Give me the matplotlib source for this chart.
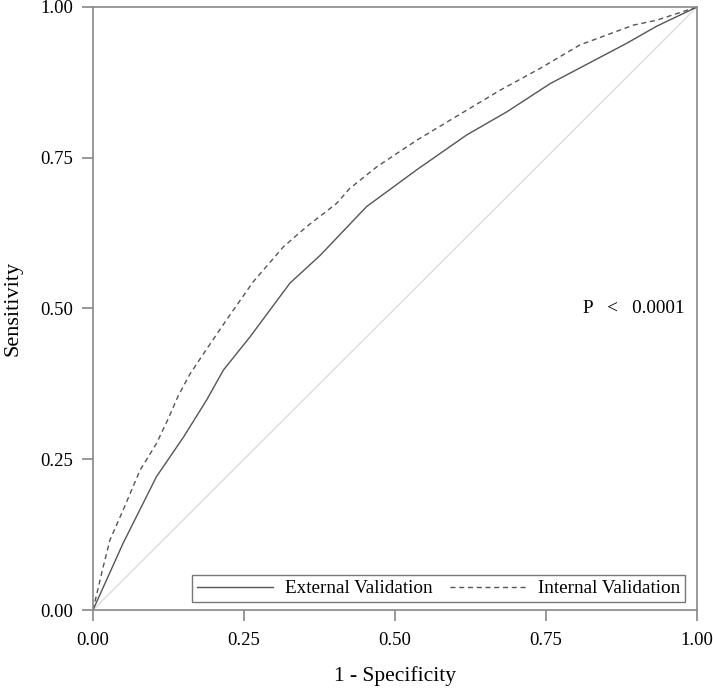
import matplotlib.pyplot as plt

plt.rcParams['font.family'] = ['Liberation Serif', 'DejaVu Serif']

# ROC points
ext_fpr = [0.0, 0.05, 0.105, 0.15, 0.188, 0.216, 0.26, 0.326, 0.376, 0.453, 0.536,
           0.619, 0.685, 0.757, 0.884, 0.933, 1.0]
ext_tpr = [0.0, 0.111, 0.221, 0.287, 0.348, 0.398, 0.453, 0.542, 0.588, 0.669, 0.730,
           0.788, 0.826, 0.873, 0.940, 0.968, 1.0]

int_fpr = [0.0, 0.017, 0.028, 0.05, 0.078, 0.105, 0.125, 0.141, 0.161, 0.185, 0.221,
           0.265, 0.315, 0.354, 0.403, 0.425, 0.47, 0.536, 0.619, 0.674, 0.74, 0.806,
           0.895, 0.933, 1.0]
int_tpr = [0.0, 0.072, 0.116, 0.166, 0.232, 0.276, 0.318, 0.355, 0.392, 0.428, 0.481,
           0.544, 0.602, 0.636, 0.674, 0.699, 0.735, 0.779, 0.829, 0.862, 0.898, 0.937,
           0.970, 0.978, 1.0]

ticks = [0.0, 0.25, 0.5, 0.75, 1.0]
tick_labels = ["0.00", "0.25", "0.50", "0.75", "1.00"]

fig = plt.figure(figsize=(7.13, 6.90), dpi=100)
ax = fig.add_axes([0.1304, 0.1159, 0.8472, 0.874])

ax.plot([0, 1], [0, 1], color='#dcdcdc', lw=1)
ax.plot(ext_fpr, ext_tpr, color='#555555', lw=1, label='External Validation')
ax.plot(int_fpr, int_tpr, color='#555555', lw=1, ls=(0, (3.6, 2.7)), label='Internal Validation')

ax.set_xlim(0, 1)
ax.set_ylim(0, 1)
ax.set_xticks(ticks)
ax.set_xticklabels(tick_labels)
ax.set_yticks(ticks)
ax.set_yticklabels(tick_labels)
ax.tick_params(direction='out', length=8, width=1.2, color='#888888', labelsize=13.5, pad=6)
ax.tick_params(axis='x', pad=8)
for s in ax.spines.values():
    s.set_color('#888888')
    s.set_linewidth(1.2)

ax.set_xlabel("1 - Specificity", fontsize=15.5, labelpad=12)
ax.set_ylabel("Sensitivity", fontsize=16, labelpad=13)

ax.text(0.811, 0.5, "P   <   0.0001", fontsize=13.8, ha='left', va='center')

leg = ax.legend(loc='lower right', ncol=2, fontsize=13.8, frameon=True, fancybox=False,
                edgecolor='#555555', handlelength=4.0, handletextpad=0.6,
                columnspacing=0.9, borderpad=0.25, borderaxespad=0,
                bbox_to_anchor=(0.980, 0.013))
leg.get_frame().set_linewidth(1)

fig.savefig("out.png", dpi=100)
